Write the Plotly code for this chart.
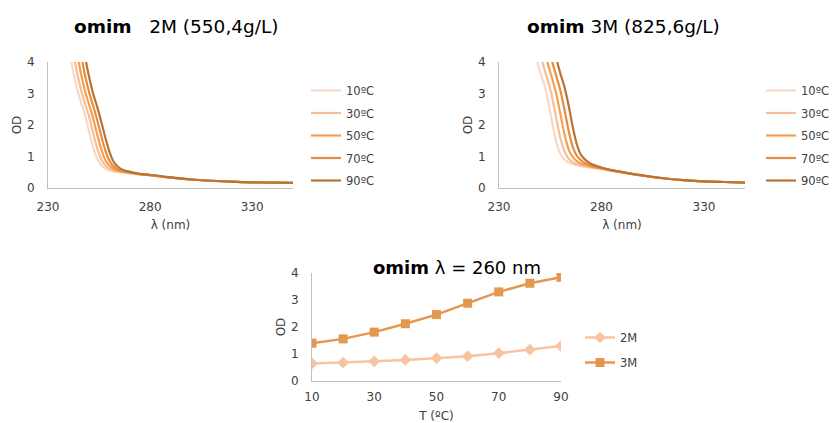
import plotly.graph_objects as go

# ---------------- data ----------------
temps = ["10ºC", "30ºC", "50ºC", "70ºC", "90ºC"]
temp_colors = ["#F8D9C8", "#F5BF9C", "#F7A04C", "#E68C45", "#B97433"]

wl_2M = [238, 240, 242, 244, 246, 248, 250, 252, 254, 256, 258, 260, 262, 264, 266, 268, 270,
         275, 280, 290, 300, 310, 320, 330, 340, 350]
od_2M_10 = [5.0, 4.5, 3.8, 3.2, 2.75, 2.35, 1.82, 1.32, 0.95, 0.74, 0.62, 0.56, 0.53, 0.51, 0.49, 0.47, 0.46,
            0.43, 0.40, 0.33, 0.27, 0.23, 0.20, 0.18, 0.17, 0.16]
od_2M_30 = [5.6, 4.95, 4.43, 3.74, 3.16, 2.71, 2.3, 1.77, 1.28, 0.93, 0.73, 0.61, 0.56, 0.53, 0.51, 0.49, 0.47,
            0.43, 0.40, 0.33, 0.27, 0.23, 0.20, 0.18, 0.17, 0.16]
od_2M_50 = [6.2, 5.55, 4.95, 4.36, 3.68, 3.11, 2.67, 2.24, 1.72, 1.25, 0.90, 0.72, 0.61, 0.55, 0.53, 0.51, 0.49,
            0.44, 0.41, 0.33, 0.27, 0.23, 0.20, 0.18, 0.17, 0.16]
od_2M_70 = [6.7, 6.1, 5.5, 4.9, 4.3, 3.62, 3.07, 2.63, 2.18, 1.67, 1.21, 0.88, 0.70, 0.60, 0.55, 0.52, 0.50,
            0.44, 0.41, 0.33, 0.27, 0.23, 0.20, 0.18, 0.17, 0.16]
od_2M_90 = [7.3, 6.7, 6.05, 5.45, 4.85, 4.22, 3.56, 3.02, 2.59, 2.13, 1.62, 1.17, 0.85, 0.69, 0.60, 0.55, 0.52,
            0.45, 0.42, 0.34, 0.27, 0.23, 0.20, 0.18, 0.17, 0.16]

wl_3M = [244, 246, 248, 250, 252, 254, 256, 258, 260, 262, 264, 266, 268, 270, 272, 275,
         280, 285, 290, 295, 300, 310, 320, 330, 340, 350]
od_3M_10 = [5.5, 4.8, 4.2, 3.7, 3.3, 2.75, 2.05, 1.45, 1.08, 0.90, 0.81, 0.76, 0.72, 0.69, 0.67, 0.64,
            0.60, 0.54, 0.49, 0.44, 0.39, 0.31, 0.25, 0.21, 0.19, 0.17]
od_3M_30 = [6.5, 5.6, 4.94, 4.32, 3.8, 3.38, 2.86, 2.19, 1.57, 1.15, 0.93, 0.82, 0.76, 0.72, 0.69, 0.66,
            0.61, 0.55, 0.49, 0.44, 0.39, 0.31, 0.25, 0.21, 0.19, 0.17]
od_3M_50 = [7.5, 6.6, 5.8, 5.08, 4.44, 3.9, 3.46, 2.97, 2.33, 1.69, 1.22, 0.98, 0.85, 0.78, 0.73, 0.68,
            0.62, 0.55, 0.50, 0.44, 0.39, 0.31, 0.25, 0.21, 0.19, 0.17]
od_3M_70 = [8.5, 7.6, 6.7, 5.9, 5.2, 4.56, 4.0, 3.54, 3.08, 2.47, 1.81, 1.30, 1.02, 0.88, 0.79, 0.71,
            0.63, 0.56, 0.50, 0.45, 0.40, 0.31, 0.25, 0.21, 0.19, 0.17]
od_3M_90 = [9.5, 8.6, 7.6, 6.8, 6.0, 5.3, 4.68, 4.1, 3.62, 3.19, 2.61, 1.93, 1.38, 1.05, 0.90, 0.76,
            0.65, 0.57, 0.51, 0.45, 0.40, 0.31, 0.25, 0.21, 0.19, 0.17]

T_values = [10, 20, 30, 40, 50, 60, 70, 80, 90]
od260_2M = [0.65, 0.68, 0.73, 0.78, 0.85, 0.92, 1.03, 1.16, 1.30]
od260_3M = [1.40, 1.56, 1.81, 2.12, 2.46, 2.88, 3.30, 3.62, 3.84]

FONT = "DejaVu Sans"
TXT = "#404040"
W, H = 832, 423

def fx(px):
    return px / W

def fy(py):
    return 1 - py / H

fig = go.Figure()

series_2M = [od_2M_10, od_2M_30, od_2M_50, od_2M_70, od_2M_90]
series_3M = [od_3M_10, od_3M_30, od_3M_50, od_3M_70, od_3M_90]

for i, (name, col) in enumerate(zip(temps, temp_colors)):
    fig.add_trace(go.Scatter(x=wl_2M, y=series_2M[i], mode="lines", name=name,
                             line=dict(color=col, width=2.2, shape="spline", smoothing=0.8),
                             xaxis="x", yaxis="y", legend="legend", legendgroup="a%d" % i,
                             hoverinfo="skip"))
for i, (name, col) in enumerate(zip(temps, temp_colors)):
    fig.add_trace(go.Scatter(x=wl_3M, y=series_3M[i], mode="lines", name=name,
                             line=dict(color=col, width=2.2, shape="spline", smoothing=0.8),
                             xaxis="x2", yaxis="y2", legend="legend2", legendgroup="b%d" % i,
                             hoverinfo="skip"))

fig.add_trace(go.Scatter(x=T_values, y=od260_2M, mode="lines+markers", name="2M",
                         line=dict(color="#F8C3A0", width=2.5),
                         marker=dict(symbol="diamond", size=9, color="#F8C3A0"),
                         xaxis="x3", yaxis="y3", legend="legend3", legendgroup="c0"))
fig.add_trace(go.Scatter(x=T_values, y=od260_3M, mode="lines+markers", name="3M",
                         line=dict(color="#E4974F", width=2.5),
                         marker=dict(symbol="square", size=9, color="#E4974F"),
                         xaxis="x3", yaxis="y3", legend="legend3", legendgroup="c1"))

def xax(ticklen):
    return dict(showgrid=False, zeroline=False, showline=True, linecolor="#BFBFBF",
                linewidth=1, ticks="outside", ticklen=ticklen, tickcolor="rgba(0,0,0,0)",
                automargin=False, tickfont=dict(family=FONT, size=12, color=TXT))

ycommon = dict(showgrid=False, zeroline=False, showline=True, linecolor="#BFBFBF",
               linewidth=1, ticks="outside", ticklen=10, tickcolor="rgba(0,0,0,0)",
               automargin=False, tickfont=dict(family=FONT, size=12, color=TXT))

legfont = dict(family=FONT, size=11.5, color=TXT)

fig.update_layout(
    template="none",
    width=W, height=H,
    margin=dict(l=0, r=0, t=0, b=0, pad=0, autoexpand=False),
    paper_bgcolor="white", plot_bgcolor="white",
    font=dict(family=FONT, size=12, color=TXT),
    xaxis=dict(domain=[fx(48), fx(293)], range=[230, 350], tickvals=[230, 280, 330],
               anchor="y", title=dict(text="λ (nm)", font=dict(size=12), standoff=7), **xax(8)),
    yaxis=dict(domain=[fy(188), fy(62)], range=[0, 4], dtick=1, anchor="x",
               title=dict(text="OD", font=dict(size=12), standoff=2), **ycommon),
    xaxis2=dict(domain=[fx(499), fx(745)], range=[230, 350], tickvals=[230, 280, 330],
                anchor="y2", title=dict(text="λ (nm)", font=dict(size=12), standoff=7), **xax(8)),
    yaxis2=dict(domain=[fy(188), fy(62)], range=[0, 4], dtick=1, anchor="x2",
                title=dict(text="OD", font=dict(size=12), standoff=2), **ycommon),
    xaxis3=dict(domain=[fx(312), fx(561)], range=[10, 90], tickvals=[10, 30, 50, 70, 90],
                anchor="y3", title=dict(text="T (ºC)", font=dict(size=12), standoff=9), **xax(5)),
    yaxis3=dict(domain=[fy(381), fy(273)], range=[0, 4], dtick=1, anchor="x3",
                title=dict(text="OD", font=dict(size=12), standoff=2), **ycommon),
    legend=dict(x=fx(306), y=fy(76), xanchor="left", yanchor="top", tracegroupgap=3.5,
                font=legfont, itemwidth=30, bgcolor="rgba(0,0,0,0)"),
    legend2=dict(x=fx(761), y=fy(76), xanchor="left", yanchor="top", tracegroupgap=3.5,
                 font=legfont, itemwidth=30, bgcolor="rgba(0,0,0,0)"),
    legend3=dict(x=fx(580), y=fy(323), xanchor="left", yanchor="top", tracegroupgap=6,
                 font=legfont, itemwidth=30, bgcolor="rgba(0,0,0,0)"),
    showlegend=True,
)

fig.add_annotation(text="<b>omim</b>   2M (550,4g/L)", x=fx(176), y=fy(27), xref="paper", yref="paper",
                   showarrow=False, font=dict(family=FONT, size=18.5, color="#000000"),
                   xanchor="center", yanchor="middle")
fig.add_annotation(text="<b>omim</b> 3M (825,6g/L)", x=fx(623), y=fy(27), xref="paper", yref="paper",
                   showarrow=False, font=dict(family=FONT, size=18.5, color="#000000"),
                   xanchor="center", yanchor="middle")
fig.add_annotation(text="<b>omim</b> λ = 260 nm", x=fx(457), y=fy(267), xref="paper", yref="paper",
                   showarrow=False, font=dict(family=FONT, size=18, color="#000000"),
                   xanchor="center", yanchor="middle")

fig.write_html("out.html", config={"displayModeBar": False},
               post_script="document.body.style.margin='0px';document.body.style.padding='0px';")
